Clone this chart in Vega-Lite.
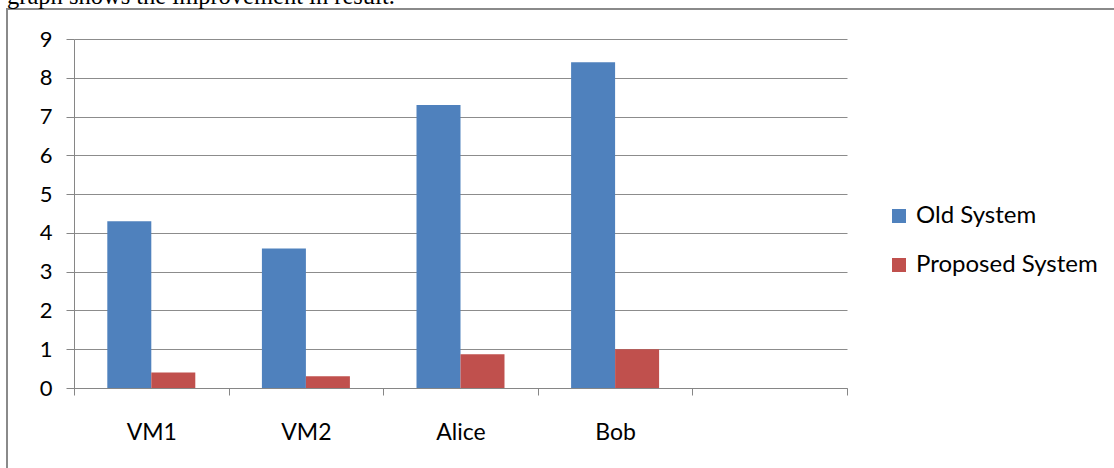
{
  "$schema": "https://vega.github.io/schema/vega-lite/v6.json",
  "autosize": {"type": "none"},
  "padding": {"left": 7, "top": 9, "right": 0, "bottom": 0},
  "width": 1110,
  "height": 470,
  "background": "white",
  "title": {
    "text": "graph shows the improvement in result.",
    "anchor": "start",
    "frame": "group",
    "font": "Liberation Serif",
    "fontSize": 24.5,
    "fontWeight": "normal",
    "color": "black",
    "baseline": "alphabetic",
    "offset": 0,
    "dy": 19
  },
  "data": {
    "values": [
      {"category": "VM1", "system": "Old System", "value": 4.3},
      {"category": "VM1", "system": "Proposed System", "value": 0.4},
      {"category": "VM2", "system": "Old System", "value": 3.6},
      {"category": "VM2", "system": "Proposed System", "value": 0.3},
      {"category": "Alice", "system": "Old System", "value": 7.3},
      {"category": "Alice", "system": "Proposed System", "value": 0.87},
      {"category": "Bob", "system": "Old System", "value": 8.4},
      {"category": "Bob", "system": "Proposed System", "value": 1.0}
    ]
  },
  "mark": {"type": "bar"},
  "encoding": {
    "x": {
      "field": "category",
      "type": "nominal",
      "sort": null,
      "scale": {"domain": ["VM1", "VM2", "Alice", "Bob", " "], "range": [67, 840], "paddingInner": 0, "paddingOuter": 0},
      "axis": {
        "title": null,
        "orient": "bottom",
        "offset": -91,
        "labelAngle": 0,
        "tickBand": "extent",
        "domainColor": "#868686",
        "domainWidth": 1,
        "tickColor": "#868686",
        "tickSize": 7,
        "labelFont": "Lato",
        "labelFontSize": 23,
        "labelColor": "black",
        "labelPadding": 26,
        "grid": false
      }
    },
    "xOffset": {
      "field": "system",
      "type": "nominal",
      "sort": ["Old System", "Proposed System"],
      "scale": {"paddingInner": 0, "paddingOuter": 0.757}
    },
    "y": {
      "field": "value",
      "type": "quantitative",
      "scale": {"domain": [0, 9], "range": [379, 30], "nice": false, "zero": true},
      "axis": {
        "title": null,
        "orient": "left",
        "offset": -67,
        "values": [0, 1, 2, 3, 4, 5, 6, 7, 8, 9],
        "grid": true,
        "gridColor": "#8c8c8c",
        "gridWidth": 1,
        "domainColor": "#868686",
        "domainWidth": 1,
        "tickColor": "#868686",
        "tickSize": 8,
        "labelFont": "Lato",
        "labelFontSize": 22,
        "labelColor": "black",
        "labelPadding": 14
      }
    },
    "color": {
      "field": "system",
      "type": "nominal",
      "scale": {"domain": ["Old System", "Proposed System"], "range": ["#4F81BD", "#C0504D"]},
      "legend": {
        "title": null,
        "orient": "none",
        "legendX": 880,
        "legendY": 195,
        "symbolType": "square",
        "symbolSize": 196,
        "symbolStrokeWidth": 0,
        "labelFont": "Lato",
        "labelFontSize": 24,
        "labelLimit": 400,
        "labelColor": "black",
        "rowPadding": 25,
        "labelOffset": 5
      }
    }
  },
  "config": {
    "view": {"stroke": "#8a8a8a", "strokeWidth": 2, "fill": "white"}
  }
}
